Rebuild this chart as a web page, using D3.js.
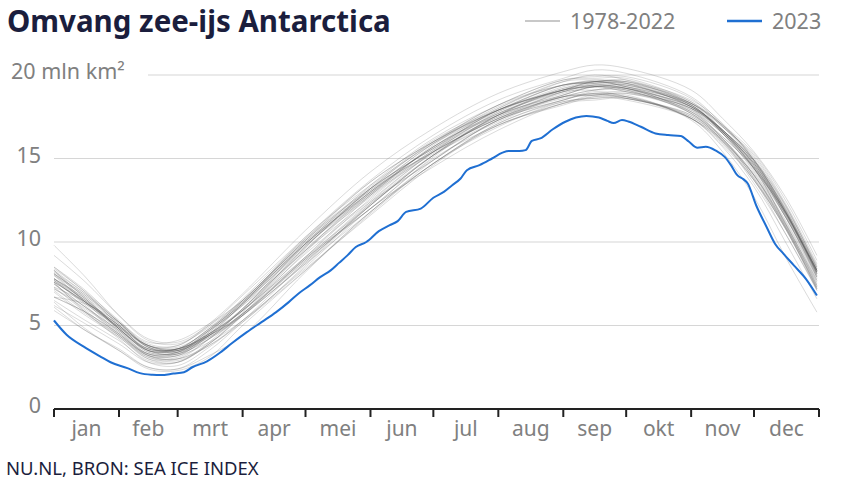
<!DOCTYPE html>
<html>
<head>
<meta charset="utf-8">
<script src="https://cdn.jsdelivr.net/npm/d3@7"></script>
<style>
  html, body { margin: 0; padding: 0; background: #ffffff; }
  svg { display: block; font-family: "Noto Sans", sans-serif; }
</style>
</head>
<body>
<svg id="chart" width="854" height="480"></svg>
<script>
// ---------------- DATA ----------------
const title = "Omvang zee-ijs Antarctica";
const source = "NU.NL, BRON: SEA ICE INDEX";
const legendLabels = ["1978-2022", "2023"];
const monthLabels = ["jan","feb","mrt","apr","mei","jun","jul","aug","sep","okt","nov","dec"];
const monthStarts = [0,31,59,90,120,151,181,212,243,273,304,334,365];
const yTicks = [0,5,10,15,20];
const yUnit = "mln km²";

// day-of-year sample points for the historical years
const grayDays = [0,15,31,45,59,74,90,120,151,181,212,243,258,273,304,319,334,349,364];
const grayYears = [1978,1979,1980,1981,1982,1983,1984,1985,1986,1987,1988,1989,1990,1991,1992,1993,1994,1995,1996,1997,1998,1999,2000,2001,2002,2003,2004,2005,2006,2007,2008,2009,2010,2011,2012,2013,2014,2015,2016,2017,2018,2019,2020,2021,2022];
const grayValues = [
  [null,null,null,null,null,null,null,null,null,null,null,null,null,null,18.0,16.5,14.4,11.5,8.0],
  [7.6,6.4,4.9,3.6,3.4,4.3,5.7,9.0,12.4,15.4,17.8,19.4,19.6,19.3,18.0,16.6,14.7,11.6,7.9],
  [8.5,7.1,5.2,3.7,3.5,4.3,5.6,8.7,11.8,14.9,17.3,18.6,18.8,18.9,17.9,16.6,14.4,11.1,7.7],
  [7.5,5.9,4.4,3.3,3.4,4.6,6.4,9.9,13.0,15.7,18.0,19.6,19.7,19.5,18.1,16.5,14.5,11.8,8.2],
  [7.8,6.5,4.7,3.3,3.3,4.2,5.6,9.1,12.8,15.7,17.7,19.0,19.4,19.4,18.3,17.0,14.9,11.9,8.3],
  [8.1,6.7,5.1,3.8,3.6,4.4,5.7,8.9,12.0,15.1,17.6,19.2,19.4,19.2,17.8,16.2,14.1,11.2,7.8],
  [7.3,5.8,4.3,3.1,2.9,3.8,5.2,8.6,12.2,15.2,17.3,18.8,19.3,19.2,18.1,16.7,14.6,11.5,8.1],
  [7.6,6.4,4.8,3.5,3.5,4.5,6.0,9.7,13.2,16.0,17.9,19.1,19.6,19.6,18.2,16.5,14.2,11.3,7.9],
  [7.2,6.0,4.6,3.2,3.0,3.8,5.3,8.4,11.6,14.6,17.0,18.2,18.7,18.7,17.5,16.1,14.0,11.0,7.4],
  [7.0,5.6,4.3,3.0,3.0,4.2,6.0,9.8,12.9,15.8,18.1,19.4,19.5,19.5,18.4,16.7,14.9,12.2,8.4],
  [8.2,6.9,5.2,3.7,3.4,4.4,5.9,9.1,12.6,15.4,17.4,18.7,19.1,19.2,17.7,16.1,14.0,11.1,7.5],
  [7.1,5.7,4.4,3.0,2.8,3.9,5.7,9.0,12.0,14.7,17.1,18.4,18.6,18.7,17.4,15.8,13.7,10.8,7.2],
  [6.7,5.8,4.5,3.1,3.1,4.2,6.0,9.5,12.5,15.4,17.7,19.0,19.1,19.1,18.1,16.7,14.7,11.7,8.3],
  [7.8,6.3,4.9,3.6,3.6,4.5,5.9,9.1,12.2,15.2,17.5,18.7,19.1,19.2,17.9,16.2,14.0,10.9,7.6],
  [7.2,6.1,4.4,3.2,3.2,4.0,5.3,8.5,12.0,14.5,16.7,18.3,18.5,18.6,17.4,16.0,13.5,10.5,7.1],
  [7.3,6.4,4.9,3.8,3.7,4.7,6.2,9.5,13.0,15.4,17.4,19.0,19.4,19.2,17.8,16.3,14.4,11.1,7.7],
  [7.5,6.1,4.7,3.5,3.3,4.5,6.3,10.3,13.4,15.9,17.8,19.3,19.7,19.5,18.1,16.7,14.5,11.8,8.1],
  [7.7,6.2,4.5,3.3,3.2,4.4,5.9,9.7,13.2,15.6,17.9,19.1,19.5,19.6,18.5,17.1,14.9,11.9,8.5],
  [8.3,6.6,4.8,3.6,3.6,4.8,6.3,9.8,12.8,15.7,17.6,18.9,19.3,19.0,18.0,16.6,14.4,11.7,8.0],
  [7.6,6.4,5.0,3.5,3.6,4.5,5.9,9.3,12.4,14.9,17.3,18.5,18.9,18.6,17.6,16.2,13.8,10.8,7.3],
  [6.7,5.8,4.5,3.2,3.2,4.4,6.3,10.1,13.2,15.6,17.9,19.1,19.3,19.3,18.2,16.5,14.3,11.5,8.2],
  [7.8,6.6,4.8,3.5,3.3,4.2,5.7,9.4,12.8,15.3,17.6,19.1,19.3,19.0,18.0,16.7,14.8,11.8,8.3],
  [8.1,6.4,5.0,3.5,3.5,4.7,6.5,10.0,13.1,15.9,18.2,19.4,19.6,19.6,18.3,16.9,15.1,12.2,8.5],
  [8.4,7.0,5.0,3.8,3.5,4.4,5.9,9.6,12.7,15.5,17.5,19.0,19.4,19.2,18.1,16.7,14.6,11.6,8.3],
  [8.0,6.7,4.8,3.6,3.6,4.4,5.7,9.0,12.0,15.0,17.0,18.3,18.8,18.6,17.6,16.0,13.9,10.9,7.2],
  [6.7,6.3,5.2,4.0,4.1,5.1,6.5,10.1,13.2,15.6,17.6,18.8,19.3,19.1,17.7,16.3,14.4,11.7,8.1],
  [7.7,6.5,5.0,3.8,3.6,4.5,6.0,9.9,13.0,15.9,17.9,19.4,19.6,19.7,18.3,16.7,14.9,11.9,8.3],
  [8.0,6.4,4.9,3.4,3.4,4.7,6.5,10.1,13.6,16.0,17.9,19.1,19.6,19.3,18.2,16.6,14.7,11.8,8.2],
  [7.8,6.6,4.8,3.5,3.6,4.8,6.6,10.2,13.3,16.1,18.0,19.6,20.0,19.7,18.3,16.9,14.8,12.0,8.3],
  [8.1,6.8,5.2,3.7,3.5,4.7,6.2,9.9,13.0,15.5,17.9,19.1,19.6,19.4,18.3,17.0,15.3,12.5,8.9],
  [9.8,7.9,5.6,4.1,3.9,4.9,6.4,9.9,12.9,15.4,17.4,18.7,18.9,19.0,18.0,16.7,14.8,11.8,8.3],
  [8.1,6.8,5.1,3.8,3.5,4.4,5.6,8.8,12.2,15.2,17.6,19.1,19.3,19.4,18.1,16.6,14.4,11.7,8.1],
  [7.7,6.3,4.8,3.4,3.4,4.6,6.4,9.9,13.4,16.2,18.2,19.7,19.8,19.8,18.4,17.0,15.0,12.1,8.6],
  [8.3,6.4,4.6,3.2,3.0,3.9,5.6,8.7,12.3,15.2,17.2,18.7,18.8,18.9,17.8,16.5,14.5,11.5,7.9],
  [7.5,6.1,4.7,3.3,3.3,4.5,6.3,9.7,13.2,16.0,18.2,19.7,19.9,19.9,18.6,16.9,15.2,12.3,8.7],
  [8.5,7.0,5.3,3.8,3.8,5.0,6.8,10.3,13.7,16.4,18.5,19.8,20.3,20.1,18.7,17.0,14.9,12.0,8.4],
  [8.3,6.9,5.2,3.9,3.8,5.1,6.9,10.7,14.2,16.8,18.9,20.2,20.6,20.4,19.1,17.4,15.4,12.7,9.2],
  [9.2,7.6,5.6,4.2,4.0,5.0,6.5,10.2,13.6,16.0,17.9,19.4,19.5,19.5,18.2,16.6,14.7,11.8,8.2],
  [7.8,6.5,5.0,3.7,3.6,4.8,6.3,10.0,13.1,15.4,17.4,18.7,18.8,18.8,17.3,15.4,12.7,9.1,5.8],
  [5.9,4.7,3.5,2.5,2.4,3.2,4.4,8.2,11.8,14.7,17.0,18.3,18.7,18.5,17.4,16.0,13.7,10.8,7.1],
  [6.1,4.7,3.6,2.5,2.4,3.5,5.2,8.3,11.7,14.7,16.9,18.4,18.6,18.6,17.5,16.1,13.8,10.9,7.3],
  [6.5,5.3,4.1,2.9,2.8,3.9,5.6,8.9,12.3,14.9,17.3,18.5,19.0,18.7,17.4,15.7,13.3,10.0,6.6],
  [6.2,5.1,3.9,2.8,2.8,4.0,5.8,9.5,12.9,15.7,17.7,19.2,19.6,19.3,18.2,16.6,14.6,11.8,8.2],
  [7.6,5.8,4.2,2.8,2.6,3.7,5.3,8.8,12.2,15.2,17.6,18.8,19.3,19.1,17.7,16.1,14.0,11.0,7.4],
  [6.4,4.8,3.5,2.4,2.3,3.1,5.0,8.3,11.8,14.7,17.1,18.5,18.9,18.7,17.4,15.9,13.7,10.5,7.2]
];

// 2023 (day-of-year, extent in mln km²)
const blueDays = [0,6,14,22,27,35,41,47,51,57,62,66,73,79,85,92,99,106,112,117,122,127,132,136,140,144,149,155,160,164,168,175,181,186,190,194,197,203,209,214,217,222,225,228,232,238,244,249,254,260,264,267,271,274,280,287,293,299,303,307,311,316,320,323,326,329,331,335,340,344,348,353,359,364];
const blueValues = [5.3,4.45,3.75,3.15,2.8,2.45,2.15,2.05,2.03,2.12,2.2,2.5,2.85,3.35,3.95,4.6,5.2,5.8,6.4,6.95,7.4,7.9,8.3,8.75,9.2,9.7,10.0,10.65,11.0,11.25,11.8,12.0,12.65,13.0,13.4,13.8,14.3,14.6,15.0,15.35,15.45,15.45,15.5,16.05,16.2,16.75,17.2,17.45,17.55,17.45,17.25,17.12,17.3,17.22,16.9,16.5,16.4,16.35,16.0,15.65,15.7,15.45,15.1,14.6,14.0,13.75,13.5,12.2,10.9,9.9,9.3,8.6,7.75,6.8];

// ---------------- DRAW ----------------
const svg = d3.select("#chart");
const navy = "#1b1e3d";
const grayText = "#808080";
const blue = "#1f6fd2";

const x = d3.scaleLinear().domain([0, 365]).range([54, 819]);
const y = d3.scaleLinear().domain([0, 20]).range([409, 75]);

svg.append("rect").attr("width", 854).attr("height", 480).attr("fill", "#fff");

// title
svg.append("text").attr("x", 7).attr("y", 31.5)
  .attr("font-size", 29.5).attr("font-weight", 700).attr("fill", navy)
  .text(title);

// legend
const leg = svg.append("g");
leg.append("line").attr("x1", 525).attr("x2", 560).attr("y1", 21).attr("y2", 21)
  .attr("stroke", "#c8c8c8").attr("stroke-width", 2);
leg.append("text").attr("x", 570).attr("y", 29).attr("font-size", 21.5).attr("fill", grayText).text(legendLabels[0]);
leg.append("line").attr("x1", 727).attr("x2", 762).attr("y1", 21).attr("y2", 21)
  .attr("stroke", blue).attr("stroke-width", 2.5);
leg.append("text").attr("x", 772).attr("y", 29).attr("font-size", 21.5).attr("fill", grayText).text(legendLabels[1]);

// gridlines + y labels
yTicks.forEach(t => {
  if (t === 0) return;
  const x0 = t === 20 ? 148 : 54;
  svg.append("line").attr("x1", x0).attr("x2", 819).attr("y1", y(t)).attr("y2", y(t))
    .attr("stroke", "#d6d6d6").attr("stroke-width", 1.2);
});
yTicks.forEach(t => {
  const txt = svg.append("text").attr("font-size", 21.5).attr("fill", grayText)
    .attr("y", y(t) + 4);
  if (t === 20) {
    txt.attr("x", 11).text(t + " " + yUnit);
  } else {
    txt.attr("x", 41).attr("text-anchor", "end").text(t);
  }
});

// gray lines
const grayLine = d3.line()
  .defined(d => d.v !== null)
  .x(d => x(d.day)).y(d => y(d.v))
  .curve(d3.curveCatmullRom.alpha(0.5));
const grayG = svg.append("g");
grayValues.forEach((vals, i) => {
  const pts = vals.map((v, j) => ({ day: grayDays[j], v: v }));
  grayG.append("path").datum(pts)
    .attr("d", grayLine)
    .attr("fill", "none")
    .attr("stroke", "#4a4a4a")
    .attr("stroke-opacity", 0.2)
    .attr("stroke-width", 1)
    .attr("data-year", grayYears[i]);
});

// 2023 line
const bluePts = blueDays.map((d, i) => ({ day: d, v: blueValues[i] }));
svg.append("path").datum(bluePts)
  .attr("d", d3.line().x(d => x(d.day)).y(d => y(d.v)).curve(d3.curveMonotoneX))
  .attr("fill", "none").attr("stroke", blue).attr("stroke-width", 2);

// x axis
const axisG = svg.append("g").attr("transform", `translate(0,${y(0)})`);
axisG.append("line").attr("x1", x(0)).attr("x2", x(365)).attr("y1", 0).attr("y2", 0)
  .attr("stroke", "#222").attr("stroke-width", 2);
monthStarts.forEach(d => {
  axisG.append("line").attr("x1", x(d)).attr("x2", x(d)).attr("y1", 0).attr("y2", 8)
    .attr("stroke", "#222").attr("stroke-width", 2);
});
monthLabels.forEach((m, i) => {
  axisG.append("text")
    .attr("x", x((monthStarts[i] + monthStarts[i + 1]) / 2))
    .attr("y", 27)
    .attr("text-anchor", "middle")
    .attr("font-size", 21).attr("fill", grayText)
    .text(m);
});

// source
svg.append("text").attr("x", 6).attr("y", 475)
  .attr("font-size", 18.5).attr("fill", navy)
  .text(source);
</script>
</body>
</html>
